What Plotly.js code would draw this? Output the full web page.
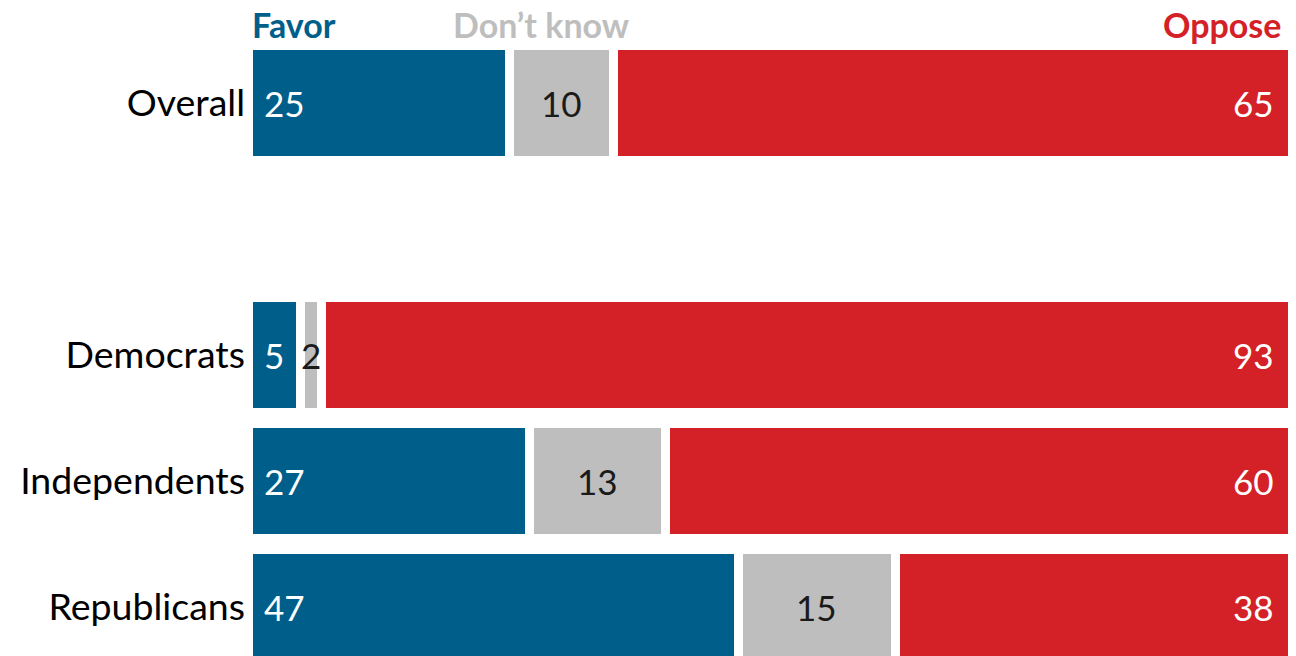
<!DOCTYPE html>
<html><head><meta charset="utf-8">
<script src="https://cdn.plot.ly/plotly-3.0.1.min.js"></script>
<style>html,body{margin:0;padding:0;background:#fff}#chart{width:1296px;height:656px}</style>
</head><body><div id="chart"></div>
<script>
const categories = ["Overall", " ", "Democrats", "Independents", "Republicans"];
const favor = [25, null, 5, 27, 47];
const dontKnow = [10, null, 2, 13, 15];
const oppose = [65, null, 93, 60, 38];
const seriesNames = ["Favor", "Don’t know", "Oppose"];
const colors = ["#005e8a", "#bebebe", "#d42128"];

const FONT = "Lato, 'Open Sans', sans-serif";
const NUMSIZE = 35;
function mk(vals, i){
  return {
    type: "bar", orientation: "h", name: seriesNames[i],
    y: categories, x: vals,
    marker: {color: colors[i], line: {color: "#ffffff", width: 9}},
    hoverinfo: "skip", width: 0.915
  };
}
const data = [mk(favor, 0), mk(dontKnow, 1), mk(oppose, 2)];

const annotations = [];
categories.forEach((c, k) => {
  if (favor[k] == null) return;
  annotations.push({x: 0, y: c, xref: "x", yref: "y", text: String(favor[k]), xanchor: "left", yanchor: "middle", xshift: 14, showarrow: false, font: {family: FONT, size: NUMSIZE, color: "#ffffff"}});
  annotations.push({x: favor[k] + dontKnow[k] / 2, y: c, xref: "x", yref: "y", text: String(dontKnow[k]), xanchor: "center", yanchor: "middle", showarrow: false, font: {family: FONT, size: NUMSIZE, color: "#1a1a1a"}});
  annotations.push({x: favor[k] + dontKnow[k] + oppose[k], y: c, xref: "x", yref: "y", text: String(oppose[k]), xanchor: "right", yanchor: "middle", xshift: -16, showarrow: false, font: {family: FONT, size: NUMSIZE, color: "#ffffff"}});
});
annotations.push(
  {text: "<b>" + seriesNames[0] + "</b>", xref: "paper", yref: "paper", x: 0.002, y: 1, yshift: 16, xanchor: "left", yanchor: "middle", showarrow: false, font: {family: FONT, size: 34, color: colors[0]}},
  {text: "<b>" + seriesNames[1] + "</b>", xref: "paper", yref: "paper", x: 0.281, y: 1, yshift: 16, xanchor: "center", yanchor: "middle", showarrow: false, font: {family: FONT, size: 34, color: colors[1]}},
  {text: "<b>" + seriesNames[2] + "</b>", xref: "paper", yref: "paper", x: 0.991, y: 1, yshift: 16, xanchor: "right", yanchor: "middle", showarrow: false, font: {family: FONT, size: 34, color: colors[2]}}
);

const layout = {
  width: 1296, height: 656,
  margin: {l: 248, r: 4, t: 40, b: 0},
  barmode: "stack", bargap: 0,
  showlegend: false,
  paper_bgcolor: "#fff", plot_bgcolor: "#fff",
  xaxis: {range: [0, 100], visible: false, fixedrange: true},
  yaxis: {type: "category", categoryarray: categories, range: [4.39, -0.5],
          showgrid: false, zeroline: false, ticks: "", ticklabelstandoff: 2,
          tickfont: {family: FONT, size: 37.5, color: "#000"}},
  font: {family: FONT},
  annotations: annotations
};
Plotly.newPlot("chart", data, layout, {displayModeBar: false, staticPlot: true});
</script></body></html>
